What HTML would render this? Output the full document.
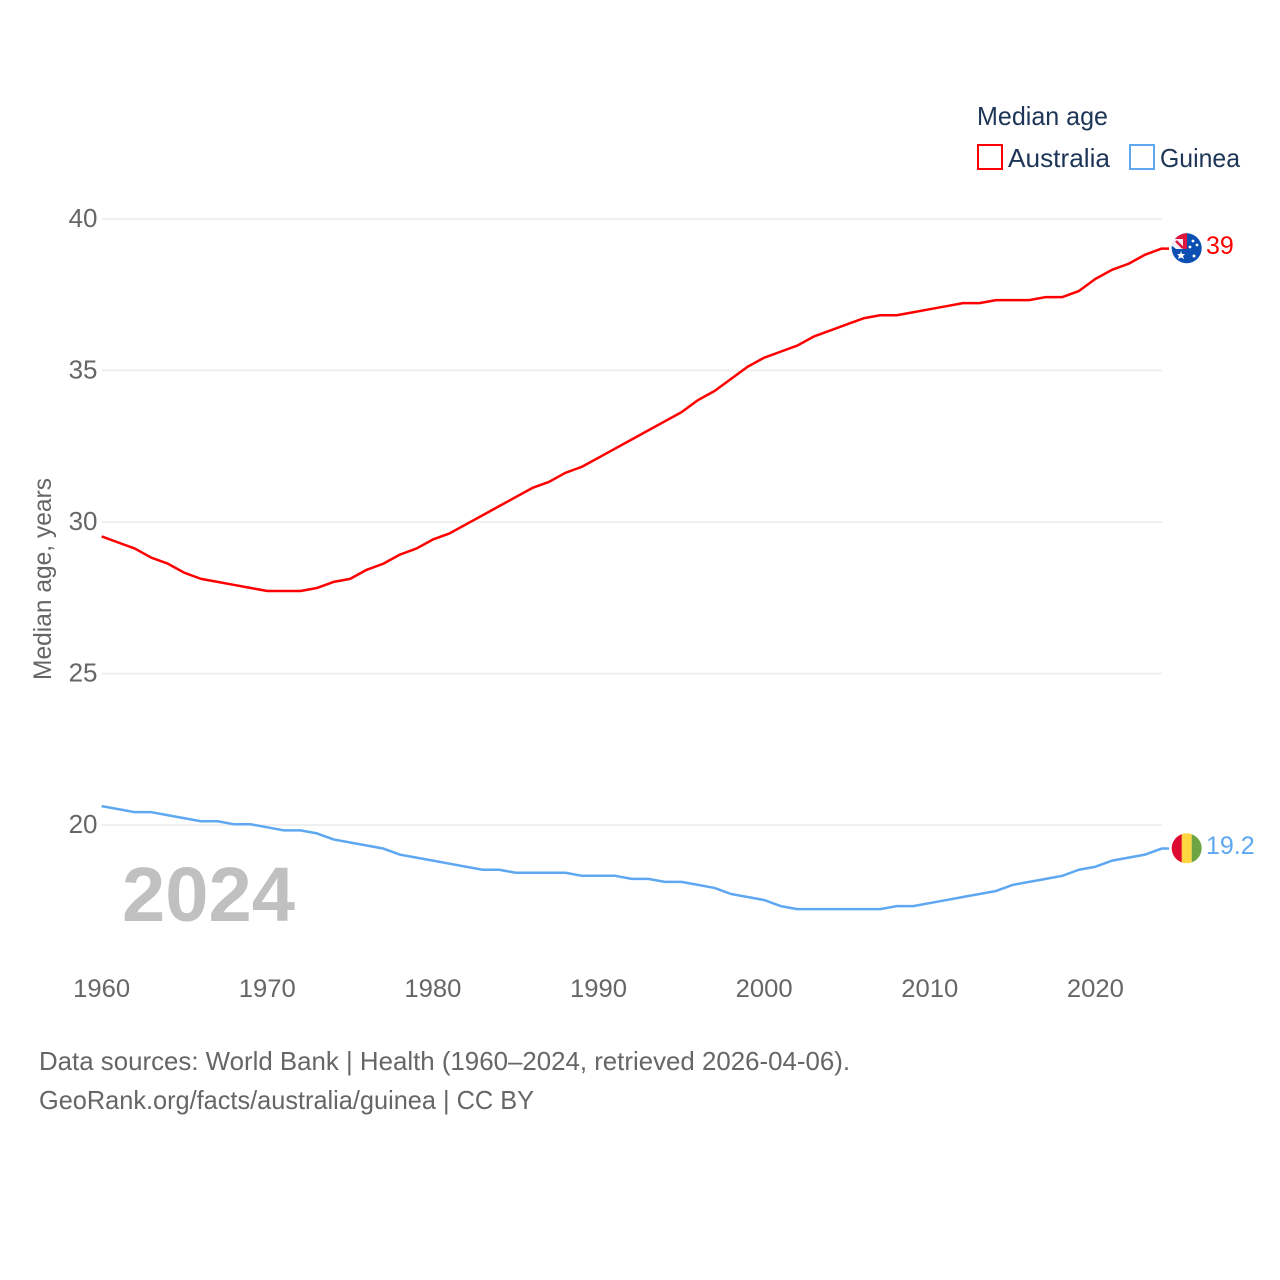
<!DOCTYPE html>
<html>
<head>
<meta charset="utf-8">
<title>Median age: Australia and Guinea</title>
<style>
html,body{margin:0;padding:0;background:#fff;}
svg{display:block;}
text{font-family:"Liberation Sans",sans-serif;}
</style>
</head>
<body>
<svg id="chart" xmlns="http://www.w3.org/2000/svg" width="1280" height="1280" viewBox="0 0 1280 1280">
  <rect x="0" y="0" width="1280" height="1280" fill="#ffffff"/>
  <defs>
    <clipPath id="flag-clip-au"><circle cx="1186.7" cy="248.3" r="15"/></clipPath>
    <clipPath id="flag-clip-gn"><circle cx="1186.7" cy="848.3" r="15"/></clipPath>
  </defs>
  <g id="grid"></g>
  <g id="yticks"></g>
  <g id="xticks"></g>
  <text transform="translate(51,680) rotate(-90)" font-size="25" fill="#666666" textLength="202" lengthAdjust="spacingAndGlyphs">Median age, years</text>
  <text x="122" y="921" font-size="77" font-weight="700" fill="#c0c0c0" textLength="173" lengthAdjust="spacingAndGlyphs">2024</text>
  <g id="series"></g>
  <g id="flag-australia">
    <g clip-path="url(#flag-clip-au)">
      <rect x="1171" y="233" width="32" height="31" fill="#0b4fb3"/>
      <rect x="1171" y="239" width="13" height="10" fill="#f2f2f6"/>
      <path d="M1171 233 H1187 V249 H1183 V239 H1171 Z" fill="#e0163c"/>
      <path d="M1176 241 L1183 248" stroke="#e0163c" stroke-width="2.5" fill="none"/>
      <path d="M1171 245 L1176 249 H1171 Z" fill="#0b4fb3"/>
      <path d="M1181 251 L1182 254 L1185 254 L1183 256 L1184 259 L1181 257.5 L1178 259 L1179 256 L1177 254 L1180 254 Z" fill="#ffffff"/>
      <circle cx="1193" cy="241" r="1.4" fill="#ffffff"/>
      <circle cx="1197" cy="245" r="1.4" fill="#ffffff"/>
      <circle cx="1190" cy="247" r="1.4" fill="#ffffff"/>
      <circle cx="1194" cy="256" r="1.5" fill="#ffffff"/>
    </g>
  </g>
  <g id="flag-guinea">
    <g clip-path="url(#flag-clip-gn)">
      <rect x="1171" y="833" width="11" height="31" fill="#dd0a2f"/>
      <rect x="1181.7" y="833" width="10" height="31" fill="#ffd63f"/>
      <rect x="1191.7" y="833" width="11" height="31" fill="#6da544"/>
    </g>
  </g>
  <g id="labels"></g>
  <g>
    <text x="977" y="125" font-size="26" fill="#1d3557" textLength="131" lengthAdjust="spacingAndGlyphs">Median age</text>
    <rect x="978" y="145" width="24" height="24" fill="#ffffff" stroke="#ff0000" stroke-width="2"/>
    <text x="1008" y="167" font-size="26" fill="#1d3557" textLength="102" lengthAdjust="spacingAndGlyphs">Australia</text>
    <rect x="1130" y="145" width="24" height="24" fill="#ffffff" stroke="#5ea8f2" stroke-width="2"/>
    <text x="1160" y="167" font-size="26" fill="#1d3557" textLength="80" lengthAdjust="spacingAndGlyphs">Guinea</text>
  </g>
  <text x="39" y="1070" font-size="26" fill="#666666" textLength="811" lengthAdjust="spacingAndGlyphs">Data sources: World Bank | Health (1960–2024, retrieved 2026-04-06).</text>
  <text x="39" y="1109" font-size="26" fill="#666666" textLength="495" lengthAdjust="spacingAndGlyphs">GeoRank.org/facts/australia/guinea | CC BY</text>
</svg>
<script>
const startYear = 1960;
const yTickValues = [20, 25, 30, 35, 40];
const xTickValues = [1960, 1970, 1980, 1990, 2000, 2010, 2020];
const australiaValues = [29.5,29.3,29.1,28.8,28.6,28.3,28.1,28.0,27.9,27.8,27.7,27.7,27.7,27.8,28.0,28.1,28.4,28.6,28.9,29.1,29.4,29.6,29.9,30.2,30.5,30.8,31.1,31.3,31.6,31.8,32.1,32.4,32.7,33.0,33.3,33.6,34.0,34.3,34.7,35.1,35.4,35.6,35.8,36.1,36.3,36.5,36.7,36.8,36.8,36.9,37.0,37.1,37.2,37.2,37.3,37.3,37.3,37.4,37.4,37.6,38.0,38.3,38.5,38.8,39.0];
const guineaValues = [20.6,20.5,20.4,20.4,20.3,20.2,20.1,20.1,20.0,20.0,19.9,19.8,19.8,19.7,19.5,19.4,19.3,19.2,19.0,18.9,18.8,18.7,18.6,18.5,18.5,18.4,18.4,18.4,18.4,18.3,18.3,18.3,18.2,18.2,18.1,18.1,18.0,17.9,17.7,17.6,17.5,17.3,17.2,17.2,17.2,17.2,17.2,17.2,17.3,17.3,17.4,17.5,17.6,17.7,17.8,18.0,18.1,18.2,18.3,18.5,18.6,18.8,18.9,19.0,19.2];

const NS = 'http://www.w3.org/2000/svg';
function xScale(year) { return 101.7 + (year - 1960) * (1161.7 - 101.7) / 64; }
function yScale(v) { return 825 - (v - 20) * (825 - 219) / 20; }
function make(tag, attrs, parent) {
  const el = document.createElementNS(NS, tag);
  for (const k in attrs) el.setAttribute(k, attrs[k]);
  parent.appendChild(el);
  return el;
}

const grid = document.getElementById('grid');
const yticks = document.getElementById('yticks');
yTickValues.forEach(function (v) {
  const line = make('line', {x1: 102, x2: 1162, y1: yScale(v), y2: yScale(v), stroke: '#ebebeb', 'stroke-width': 1.5}, grid);
  
  
  const t = make('text', {x: 97.5, y: yScale(v) + 8, 'text-anchor': 'end', 'font-size': 26, fill: '#666666'}, yticks);
  
  
  t.textContent = v;
});

const xticks = document.getElementById('xticks');
xTickValues.forEach(function (y) {
  const t = make('text', {x: xScale(y), y: 997, 'text-anchor': 'middle', 'font-size': 25, fill: '#666666', textLength: 57, lengthAdjust: 'spacingAndGlyphs'}, xticks);
  
  
  t.textContent = y;
});

function drawSeries(name, values, color) {
  const seriesOffset = -0.7;
  const pts = values.map(function (v, i) { return xScale(startYear + i).toFixed(2) + ',' + (yScale(v) + seriesOffset).toFixed(2); });
  const lastY = yScale(values[values.length - 1]) + seriesOffset;
  pts.push('1169,' + lastY.toFixed(2));
  const line = make('polyline', {points: pts.join(' '), fill: 'none', stroke: color, 'stroke-width': 2.5, 'stroke-linejoin': 'round'}, document.getElementById('series'));
  
  
  const label = make('text', {x: 1206, y: lastY + 5.5, 'font-size': 25, fill: color}, document.getElementById('labels'));
  
  
  label.textContent = String(values[values.length - 1]);
}
drawSeries('australia', australiaValues, '#ff0000');
drawSeries('guinea', guineaValues, '#5ea8f2');
</script>
</body>
</html>
